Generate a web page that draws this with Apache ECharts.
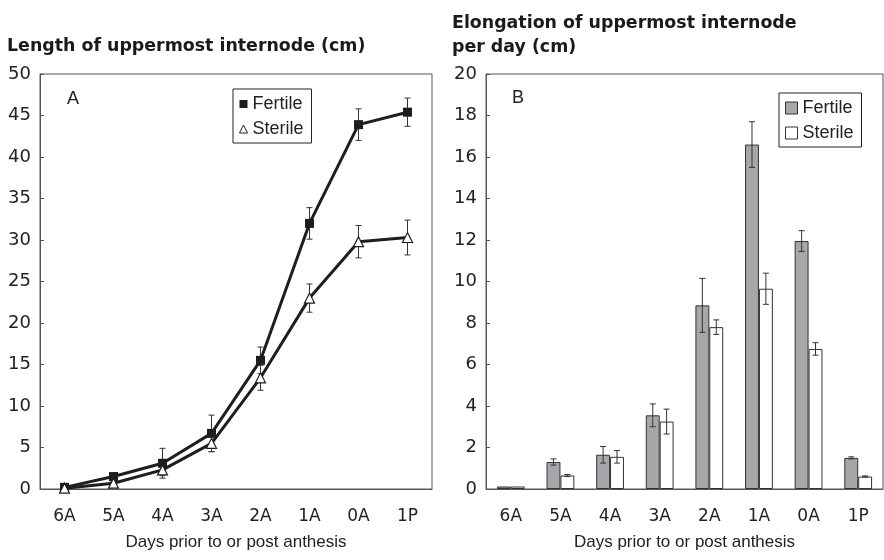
<!DOCTYPE html>
<html>
<head>
<meta charset="utf-8">
<script src="https://cdn.jsdelivr.net/npm/echarts@6/dist/echarts.min.js"></script>
<style>html,body{margin:0;padding:0;background:#fff}#c{width:884px;height:560px}</style>
</head>
<body>
<div id="c"></div>
<script>
const categories = ['6A','5A','4A','3A','2A','1A','0A','1P'];
const lengthFertile    = [0.2, 1.5, 3.1, 6.7, 15.5, 32.0, 43.9, 45.4];
const lengthFertileErr = [0.1, 0.3, 1.8, 2.2, 1.6, 1.9, 1.9, 1.7];
const lengthSterile    = [0.1, 0.7, 2.3, 5.5, 13.4, 23.0, 29.8, 30.3];
const lengthSterileErr = [0.1, 0.2, 0.7, 1.0, 1.5, 1.7, 1.95, 2.1];
const rateFertile      = [0.12, 1.3, 1.65, 3.55, 8.85, 16.6, 11.95, 1.5];
const rateFertileErr   = [0.0, 0.15, 0.4, 0.55, 1.3, 1.1, 0.5, 0.05];
const rateSterile      = [0.12, 0.65, 1.55, 3.25, 7.8, 9.65, 6.75, 0.6];
const rateSterileErr   = [0.0, 0.05, 0.3, 0.6, 0.35, 0.75, 0.3, 0.03];
const yTicksLength = [0, 50, 5];
const yTicksRate = [0, 20, 2];

const FONT = '"Liberation Sans", Arial, sans-serif';
const TFONT = '"DejaVu Sans", sans-serif';
const AX = '#555';
const INK = '#1e1e1e';

function errData(vals, errs, side) {
  return vals.map((v, i) => [i, v - errs[i], v + errs[i], side]);
}
function errRender(params, api) {
  const x = api.value(0), lo = api.value(1), hi = api.value(2), side = api.value(3);
  const pLo = api.coord([x, lo]);
  const pHi = api.coord([x, hi]);
  const bw = api.size([1, 0])[0];
  const cx = pLo[0] + side * bw * 0.14;
  const cap = 3;
  const st = { stroke: '#333', lineWidth: 1 };
  if (hi - lo <= 0) return null;
  return {
    type: 'group',
    children: [
      { type: 'line', shape: { x1: cx, y1: pLo[1], x2: cx, y2: pHi[1] }, style: st },
      { type: 'line', shape: { x1: cx - cap, y1: pHi[1], x2: cx + cap, y2: pHi[1] }, style: st },
      { type: 'line', shape: { x1: cx - cap, y1: pLo[1], x2: cx + cap, y2: pLo[1] }, style: st }
    ]
  };
}

function xAxis(gi) {
  return {
    type: 'category', gridIndex: gi, data: categories, boundaryGap: true,
    name: 'Days prior to or post anthesis', nameLocation: 'middle', nameGap: 45,
    nameTextStyle: { fontFamily: FONT, fontSize: 17, color: '#222' },
    axisLine: { lineStyle: { color: AX, width: 1 } },
    axisTick: { inside: true, length: 5, interval: 0, lineStyle: { color: AX } },
    axisLabel: { fontFamily: TFONT, fontSize: 17, color: '#222', margin: 19, interval: 0 },
    splitLine: { show: false }
  };
}
function yAxis(gi, t) {
  return {
    type: 'value', gridIndex: gi, min: t[0], max: t[1], interval: t[2],
    axisLine: { show: true, lineStyle: { color: AX, width: 1 } },
    axisTick: { show: true, inside: true, length: 4, lineStyle: { color: AX } },
    axisLabel: { fontFamily: TFONT, fontSize: 18, color: '#222', margin: 9 },
    splitLine: { show: false }
  };
}

const chart = echarts.init(document.getElementById('c'), null, { renderer: 'canvas' });
chart.setOption({
  animation: false,
  backgroundColor: '#fff',
  title: [
    { text: 'Length of uppermost internode (cm)', left: 7, top: 38, padding: 0,
      textStyle: { fontFamily: TFONT, fontSize: 17.4, fontWeight: 'bold', color: '#1a1a1a' } },
    { text: 'Elongation of uppermost internode\nper day (cm)', left: 452, top: 11, padding: 0,
      textStyle: { fontFamily: TFONT, fontSize: 17.4, fontWeight: 'bold', color: '#1a1a1a', lineHeight: 24 } }
  ],
  grid: [
    { left: 40, top: 74, width: 392, height: 415, show: true, borderColor: AX, borderWidth: 1, backgroundColor: 'transparent' },
    { left: 486, top: 74, width: 397, height: 415, show: true, borderColor: AX, borderWidth: 1, backgroundColor: 'transparent' }
  ],
  legend: [
    { orient: 'vertical', left: 233, top: 89, padding: [5, 8, 4, 6], itemGap: 5,
      borderColor: '#222', borderWidth: 1, itemWidth: 8, itemHeight: 8, itemTextGap: 3,
      selectedMode: false,
      textStyle: { fontFamily: FONT, fontSize: 18, color: '#222', lineHeight: 20 },
      data: [
        { name: 'Fertile', icon: 'rect', itemStyle: { color: INK, borderWidth: 0 } },
        { name: 'Sterile', icon: 'triangle', itemStyle: { color: '#fff', borderColor: '#222', borderWidth: 1 } }
      ] },
    { orient: 'vertical', left: 779, top: 93, padding: [5, 8, 4, 6], itemGap: 5,
      borderColor: '#222', borderWidth: 1, itemWidth: 12, itemHeight: 12, itemTextGap: 3,
      selectedMode: false,
      formatter: n => n.trim(),
      textStyle: { fontFamily: FONT, fontSize: 18, color: '#222', lineHeight: 20 },
      data: [
        { name: 'Fertile ', icon: 'rect', itemStyle: { color: '#a6a7aa', borderColor: '#333', borderWidth: 1 } },
        { name: 'Sterile ', icon: 'rect', itemStyle: { color: '#fff', borderColor: '#333', borderWidth: 1 } }
      ] }
  ],
  graphic: [
    { type: 'text', left: 67, top: 90, style: { text: 'A', font: '18px ' + FONT, fill: '#222' } },
    { type: 'text', left: 512, top: 89, style: { text: 'B', font: '18px ' + FONT, fill: '#222' } }
  ],
  xAxis: [xAxis(0), xAxis(1)],
  yAxis: [yAxis(0, yTicksLength), yAxis(1, yTicksRate)],
  series: [
    { type: 'custom', name: 'errF', xAxisIndex: 0, yAxisIndex: 0, renderItem: errRender,
      data: errData(lengthFertile, lengthFertileErr, 0), encode: { x: 0, y: [1, 2] }, z: 1, silent: true },
    { type: 'custom', name: 'errS', xAxisIndex: 0, yAxisIndex: 0, renderItem: errRender,
      data: errData(lengthSterile, lengthSterileErr, 0), encode: { x: 0, y: [1, 2] }, z: 1, silent: true },
    { type: 'line', name: 'Fertile', xAxisIndex: 0, yAxisIndex: 0, data: lengthFertile,
      symbol: 'rect', symbolSize: 9, showAllSymbol: true,
      lineStyle: { color: INK, width: 3 }, itemStyle: { color: INK, borderWidth: 0 }, z: 3 },
    { type: 'line', name: 'Sterile', xAxisIndex: 0, yAxisIndex: 0, data: lengthSterile,
      symbol: 'triangle', symbolSize: 10, showAllSymbol: true,
      lineStyle: { color: INK, width: 3 }, itemStyle: { color: '#fff', borderColor: INK, borderWidth: 1.2 }, z: 3 },
    { type: 'bar', name: 'Fertile ', xAxisIndex: 1, yAxisIndex: 1, data: rateFertile,
      barWidth: '28%', barGap: '0%',
      itemStyle: { color: '#a6a7aa', borderColor: '#333', borderWidth: 1 }, z: 2 },
    { type: 'bar', name: 'Sterile ', xAxisIndex: 1, yAxisIndex: 1, data: rateSterile,
      barWidth: '28%', barGap: '0%',
      itemStyle: { color: '#fff', borderColor: '#333', borderWidth: 1 }, z: 2 },
    { type: 'custom', name: 'errBF', xAxisIndex: 1, yAxisIndex: 1, renderItem: errRender,
      data: errData(rateFertile, rateFertileErr, -1), encode: { x: 0, y: [1, 2] }, z: 4, silent: true },
    { type: 'custom', name: 'errBS', xAxisIndex: 1, yAxisIndex: 1, renderItem: errRender,
      data: errData(rateSterile, rateSterileErr, 1), encode: { x: 0, y: [1, 2] }, z: 4, silent: true }
  ]
});
</script>
</body>
</html>
